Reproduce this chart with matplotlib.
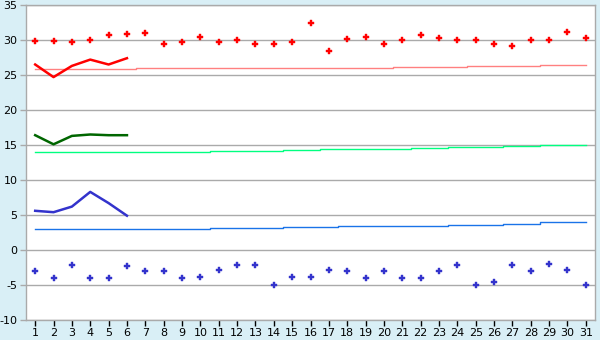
import matplotlib
matplotlib.use("Agg")
import matplotlib.pyplot as plt

days = list(range(1, 32))

high_points = [29.8, 29.8, 29.7, 30.0, 30.7, 30.8, 31.0, 29.5, 29.7, 30.4,
               29.7, 30.0, 29.5, 29.4, 29.7, 32.4, 28.4, 30.1, 30.4, 29.4,
               30.0, 30.7, 30.3, 30.0, 30.0, 29.4, 29.1, 30.0, 30.0, 31.1, 30.3]
low_points = [-3.0, -4.0, -2.2, -4.0, -4.0, -2.3, -3.0, -3.0, -4.0, -3.9,
              -2.8, -2.2, -2.2, -5.0, -3.9, -3.9, -2.8, -3.0, -4.0, -3.0,
              -4.0, -4.0, -3.0, -2.2, -5.0, -4.6, -2.2, -3.0, -2.0, -2.8, -5.0]

line_days = [1, 2, 3, 4, 5, 6]
red_line = [26.5, 24.7, 26.3, 27.2, 26.5, 27.4]
green_line = [16.4, 15.1, 16.3, 16.5, 16.4, 16.4]
blue_line = [5.6, 5.4, 6.2, 8.3, 6.7, 4.9]

pink_normal = [25.86]*6 + [26.0]*14 + [26.14]*4 + [26.29]*4 + [26.43]*3
green_normal = [13.95]*10 + [14.1]*4 + [14.24]*2 + [14.38]*5 + [14.52]*2 + [14.67]*3 + [14.86]*2 + [14.95]*3
blue_normal = [2.95]*10 + [3.1]*4 + [3.24]*3 + [3.38]*4 + [3.48]*2 + [3.62]*3 + [3.76]*2 + [3.95]*3

y_ticks = [-10, -5, 0, 5, 10, 15, 20, 25, 30, 35]
y_labels = ["-10", "-5", "0", "5", "10", "15", "20", "25", "30", "35"]

fig = plt.figure(figsize=(6, 3.4), dpi=100, facecolor="#d9eff6")
ax = fig.add_axes([26/600, 1-320/340, (595-26)/600, (320-5)/340])
ax.set_facecolor("white")

grid_c = "#aaaaaa"
for v in y_ticks:
    ax.axhline(v, color=grid_c, lw=1.0, zorder=1)

ax.plot(days, pink_normal, drawstyle="steps-mid", color="#ff8080", lw=1.0, zorder=2)
ax.plot(days, green_normal, drawstyle="steps-mid", color="#00ff80", lw=1.0, zorder=2)
ax.plot(days, blue_normal, drawstyle="steps-mid", color="#1a73e8", lw=1.0, zorder=2)

ax.plot(line_days, red_line, color="#ff0000", lw=1.8, zorder=3)
ax.plot(line_days, green_line, color="#006600", lw=1.8, zorder=3)
ax.plot(line_days, blue_line, color="#3333cc", lw=1.8, zorder=3)

ax.plot(days, high_points, ls="none", marker="P", ms=5, color="#ff0000", mew=0.3, zorder=4)
ax.plot(days, low_points, ls="none", marker="P", ms=4.5, color="#3333cc", mew=0.3, zorder=4)

ax.set_xlim(0.5, 31.5)
ax.set_ylim(-10, 35)
ax.set_xticks(days)
ax.set_yticks(y_ticks)
ax.set_yticklabels(y_labels)
for s in ax.spines.values():
    s.set_color(grid_c)
    s.set_linewidth(1.0)
ax.tick_params(axis="both", labelcolor="#000000", labelsize=8, length=4, width=1.0, pad=2)
ax.tick_params(axis="x", color="#000000")
ax.tick_params(axis="y", color=grid_c)

fig.savefig("out.png", dpi=100, facecolor=fig.get_facecolor())
